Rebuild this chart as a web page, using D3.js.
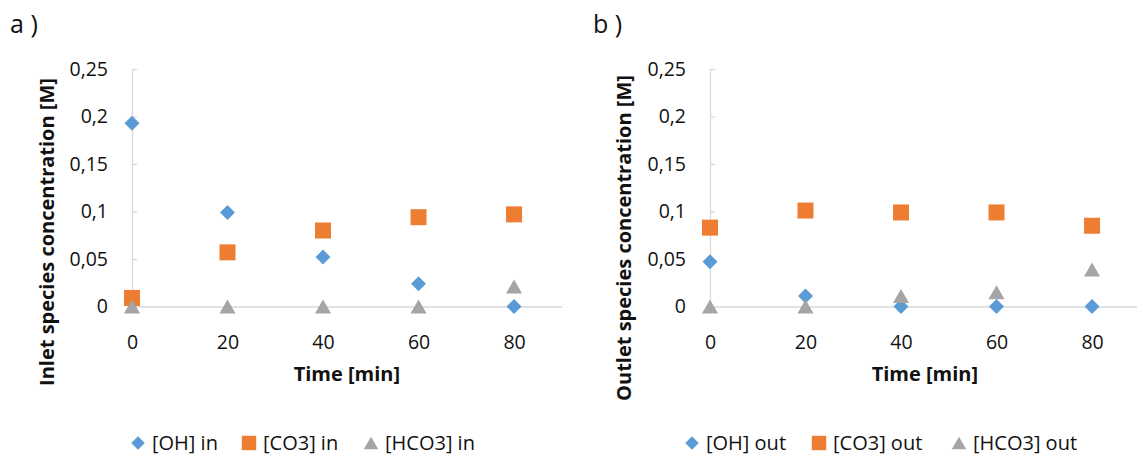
<!DOCTYPE html>
<html>
<head>
<meta charset="utf-8">
<script src="https://cdn.jsdelivr.net/npm/d3@7"></script>
<style>
  body { margin: 0; background: #fff; }
  text { font-family: "Open Sans", Lato, sans-serif; fill: #111; }
  .axis path, .axis line { stroke: #d9d9d9; stroke-width: 1.3; }
</style>
</head>
<body>
<div id="chart"></div>
<script>
// data
var times = [0, 20, 40, 60, 80];
var yTicks = [0, 0.05, 0.1, 0.15, 0.2, 0.25];
var xTicks = [0, 20, 40, 60, 80];

var ohIn = [0.193, 0.099, 0.052, 0.024, 0];
var co3In = [0.009, 0.057, 0.080, 0.094, 0.097];
var hco3In = [0, 0, 0, 0, 0.021];

var ohOut = [0.047, 0.011, 0, 0, 0];
var co3Out = [0.083, 0.101, 0.099, 0.099, 0.085];
var hco3Out = [0, 0, 0.011, 0.015, 0.039];

var panels = [
  { tag: "a )", yTitle: "Inlet species concentration [M]", left: 132, tagX: 10, titleX: 47, titleY: 232,
    series: [
      { name: "[OH] in", values: ohIn, shape: "diamond", color: "#5b9bd5" },
      { name: "[CO3] in", values: co3In, shape: "square", color: "#ed7d31" },
      { name: "[HCO3] in", values: hco3In, shape: "triangle", color: "#a5a5a5" }
    ],
    legendX: [138, 249, 371] },
  { tag: "b )", yTitle: "Outlet species concentration [M]", left: 710, tagX: 593, titleX: 624, titleY: 238,
    series: [
      { name: "[OH] out", values: ohOut, shape: "diamond", color: "#5b9bd5" },
      { name: "[CO3] out", values: co3Out, shape: "square", color: "#ed7d31" },
      { name: "[HCO3] out", values: hco3Out, shape: "triangle", color: "#a5a5a5" }
    ],
    legendX: [692, 819, 959] }
];

var svg = d3.select("#chart").append("svg")
  .attr("width", 1137)
  .attr("height", 459);

var plotTop = 69, plotBottom = 306.5;
var yScale = d3.scaleLinear().domain([0, 0.25]).range([plotBottom, plotTop]);

function comma(d) { return String(d).replace(".", ","); }

function marker(shape, k) {
  if (shape === "diamond") return d3.symbol(d3.symbolSquare, 112 * k * k)();
  if (shape === "square") return d3.symbol(d3.symbolSquare, 256 * k * k)();
  return d3.symbol(d3.symbolTriangle, 112 * k * k)();
}
// triangles: d3 centres them on the centroid, Excel on the box
function markerTransform(shape, x, y, k) {
  if (shape === "diamond") return "translate(" + x + "," + y + ") rotate(45)";
  if (shape === "triangle") return "translate(" + x + "," + (y + 2.3 * k) + ")";
  return "translate(" + x + "," + y + ")";
}

panels.forEach(function(p) {
  var xScale = d3.scaleLinear().domain([0, 90]).range([p.left, p.left + 429.8]);
  var g = svg.append("g");

  g.append("text").attr("x", p.tagX).attr("y", 33)
    .style("font-size", "25px").text(p.tag);

  var yAxis = d3.axisLeft(yScale).tickValues(yTicks).tickFormat(comma)
    .tickSizeInner(-5).tickSizeOuter(0).tickPadding(24);
  var ya = g.append("g").attr("class", "axis")
    .attr("transform", "translate(" + p.left + ",0)")
    .call(yAxis);
  ya.selectAll("text").style("font-size", "19.5px").attr("fill", "#111");

  var xAxis = d3.axisBottom(xScale).tickValues(xTicks).tickFormat(comma)
    .tickSize(0).tickPadding(29);
  var xa = g.append("g").attr("class", "axis")
    .attr("transform", "translate(0," + yScale(0) + ")")
    .call(xAxis);
  xa.selectAll("text").style("font-size", "19.5px").attr("fill", "#111");

  g.append("text")
    .attr("transform", "translate(" + p.titleX + "," + p.titleY + ") rotate(-90)")
    .attr("text-anchor", "middle").attr("dy", "0.35em")
    .style("font-size", "20px").style("font-weight", "bold")
    .text(p.yTitle);

  g.append("text")
    .attr("x", xScale(45)).attr("y", 374).attr("dy", "0.35em")
    .attr("text-anchor", "middle")
    .style("font-size", "20px").style("font-weight", "bold")
    .text("Time [min]");

  p.series.forEach(function(s, i) {
    g.selectAll(null).data(s.values).enter().append("path")
      .attr("d", marker(s.shape, 1))
      .attr("transform", function(d, j) { return markerTransform(s.shape, xScale(times[j]), yScale(d), 1); })
      .attr("fill", s.color);

    var lx = p.legendX[i], ly = 443;
    g.append("path")
      .attr("d", marker(s.shape, 0.9))
      .attr("transform", markerTransform(s.shape, lx, ly, 0.9))
      .attr("fill", s.color);
    g.append("text").attr("x", lx + 14).attr("y", ly).attr("dy", "0.35em")
      .style("font-size", "20px").text(s.name);
  });
});
</script>
</body>
</html>
